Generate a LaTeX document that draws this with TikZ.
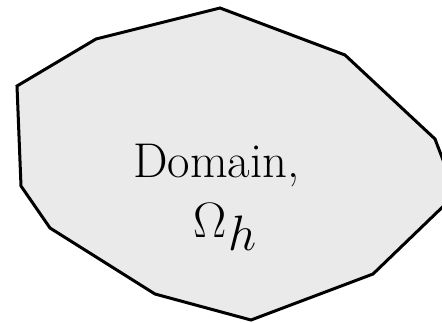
\documentclass[tikz,border=0pt]{standalone}
\definecolor{domfill}{RGB}{234,234,234}
\tikzset{domshape/.style={draw=black,fill=domfill,line width=1.5pt,line join=miter},
lbl/.style={inner sep=0pt,anchor=base}}
\begin{document}
\begin{tikzpicture}[x=0.5pt,y=-0.5pt]
\useasboundingbox (0,0) rectangle (442,322);
\clip (0,0) rectangle (442,322);
\draw[domshape] (220,8) -- (345,55) -- (435,139) -- (456,194) -- (373,274) -- (251,320) -- (155,294) -- (50,228) -- (21,186) -- (17,86) -- (96,39) -- cycle;
\node[lbl,font=\fontsize{24.4}{30}\selectfont] (t1) at (216.5,177) {Domain,};
\node[lbl,font=\fontsize{24}{30}\selectfont] (t2) at (225,237) {$\Omega\kern0.5pt\raisebox{-6.5pt}{$h$}$};
\end{tikzpicture}
\end{document}
